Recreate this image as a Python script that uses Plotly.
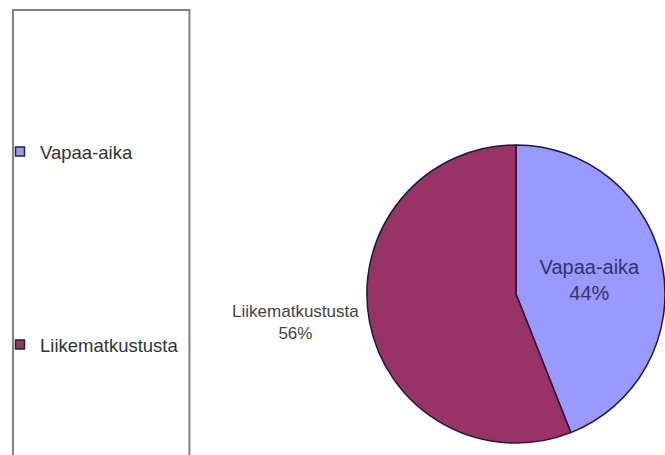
import plotly.graph_objects as go

labels = ["Vapaa-aika", "Liikematkustusta"]
values = [44, 56]
colors = ["#9999FF", "#993366"]
text_positions = ["inside", "outside"]

FONT = "Liberation Sans, Arial, sans-serif"
W, H = 665, 455

fig = go.Figure()
fig.add_trace(go.Pie(
    labels=labels, values=values, sort=False, direction="clockwise", rotation=0,
    marker=dict(colors=colors, line=dict(color="#1a1a40", width=1.5)),
    texttemplate="%{label}<br>%{percent:.0%}",
    textposition=text_positions,
    insidetextorientation="horizontal",
    insidetextfont=dict(family=FONT, size=20, color="#333366"),
    outsidetextfont=dict(family=FONT, size=17, color="#444444"),
    domain=dict(x=[366 / W, 1.0], y=[1 - 444 / H, 1 - 144 / H]),
    showlegend=False, hoverinfo="label+percent",
    automargin=False,
))

legend_names = ["legend", "legend2"]
for name, col, lg in zip(labels, colors, legend_names):
    fig.add_trace(go.Scatter(
        x=[None], y=[None], mode="markers", name=name, legend=lg,
        marker=dict(symbol="square", size=9, color=col, line=dict(color="#222233", width=1.5)),
    ))

leg_common = dict(font=dict(family=FONT, size=18.5, color="#333333"),
                  bgcolor="rgba(0,0,0,0)", borderwidth=0,
                  xanchor="left", yanchor="middle", itemwidth=30)

fig.update_layout(
    width=W, height=H,
    margin=dict(l=0, r=0, t=0, b=0),
    paper_bgcolor="white", plot_bgcolor="white",
    xaxis=dict(visible=False), yaxis=dict(visible=False),
    legend=dict(x=-2 / W, y=1 - 152 / H, **leg_common),
    legend2=dict(x=-2 / W, y=1 - 345 / H, **leg_common),
    shapes=[dict(type="rect", xref="paper", yref="paper",
                 x0=11 / W, x1=188 / W, y0=-0.05, y1=1 - 10 / H,
                 line=dict(color="#808080", width=2), fillcolor="rgba(0,0,0,0)", layer="below")],
)

fig.write_html("out.html")
